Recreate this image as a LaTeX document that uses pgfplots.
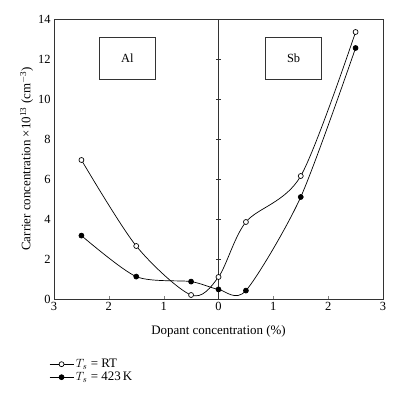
\documentclass[border=0pt]{standalone}
\usepackage{fontspec}
\setmainfont{Liberation Serif}
\usepackage{pgfplots}
\pgfplotsset{compat=1.18}
\begin{document}
\begin{tikzpicture}
\useasboundingbox (-54bp,-98bp) rectangle (346bp,299bp);
\begin{axis}[
  anchor=south west, at={(0bp,0bp)},
  scale only axis, width=329bp, height=280bp,
  xmin=-3, xmax=3, ymin=0, ymax=14,
  xtick={-3,-2,-1,0,1,2,3},
  xticklabels={3,2,1,0,1,2,3},
  ytick={0,2,4,6,8,10,12,14},
  xtick pos=bottom, tick align=inside,
  major tick length=3bp,
  ytick style={draw=none},
  every tick label/.append style={font=\fontsize{12.5}{14}\selectfont},
  /pgf/number format/assume math mode=true,
  xlabel={Dopant concentration (\%)},
  ylabel={Carrier concentration \texttimes10\textsuperscript{13} (cm\textsuperscript{$-$3})},
  label style={font=\fontsize{13}{15}\selectfont},
  xlabel style={yshift=-8bp},
  ylabel style={yshift=-2bp},
  axis line style={line width=0.8pt, black!80},
  clip=false,
  legend style={draw=none, fill=none, at={(0,0)}, anchor=north west, xshift=-6bp, yshift=-57bp,
    font=\fontsize{13}{15}\selectfont, row sep=-1bp, inner sep=1bp},
  legend cell align=left,
  legend image code/.code={\draw[mark repeat=2,mark phase=2,#1] plot coordinates {(0bp,0bp) (12bp,0bp) (24bp,0bp)};},
]
\addplot[black, line width=0.7pt, smooth, tension=0.5, mark=*, mark size=2.5pt, mark options={fill=white, line width=0.7pt}]
  coordinates {(-2.5,6.95) (-1.5,2.65) (-0.5,0.2) (0,1.1) (0.5,3.85) (1.5,6.15) (2.5,13.35)};
\addlegendentry{$T_s$ = RT}
\addplot[black, line width=0.7pt, smooth, tension=0.45, mark=*, mark size=2.5pt, mark options={fill=black}]
  coordinates {(-2.5,3.17) (-1.5,1.12) (-0.5,0.87) (0,0.48) (0.5,0.42) (1.5,5.1) (2.5,12.55)};
\addlegendentry{$T_s$ = 423\,K}
\draw[line width=0.8pt, black!80] (axis cs:0,0) -- (axis cs:0,14);
\pgfplotsinvokeforeach{2,4,6,8,10,12}{\draw[line width=0.6pt, black!80] (axis cs:0,#1) ++(-2.5bp,0bp) -- ++(5bp,0bp);}
\draw[line width=0.7pt, black!80] (axis cs:-2.17,11.0) rectangle (axis cs:-1.15,13.1);
\node[font=\fontsize{12.5}{14}\selectfont] at (axis cs:-1.66,12.05) {Al};
\draw[line width=0.7pt, black!80] (axis cs:0.86,11.0) rectangle (axis cs:1.88,13.1);
\node[font=\fontsize{12.5}{14}\selectfont] at (axis cs:1.37,12.05) {Sb};
\end{axis}
\end{tikzpicture}
\end{document}
